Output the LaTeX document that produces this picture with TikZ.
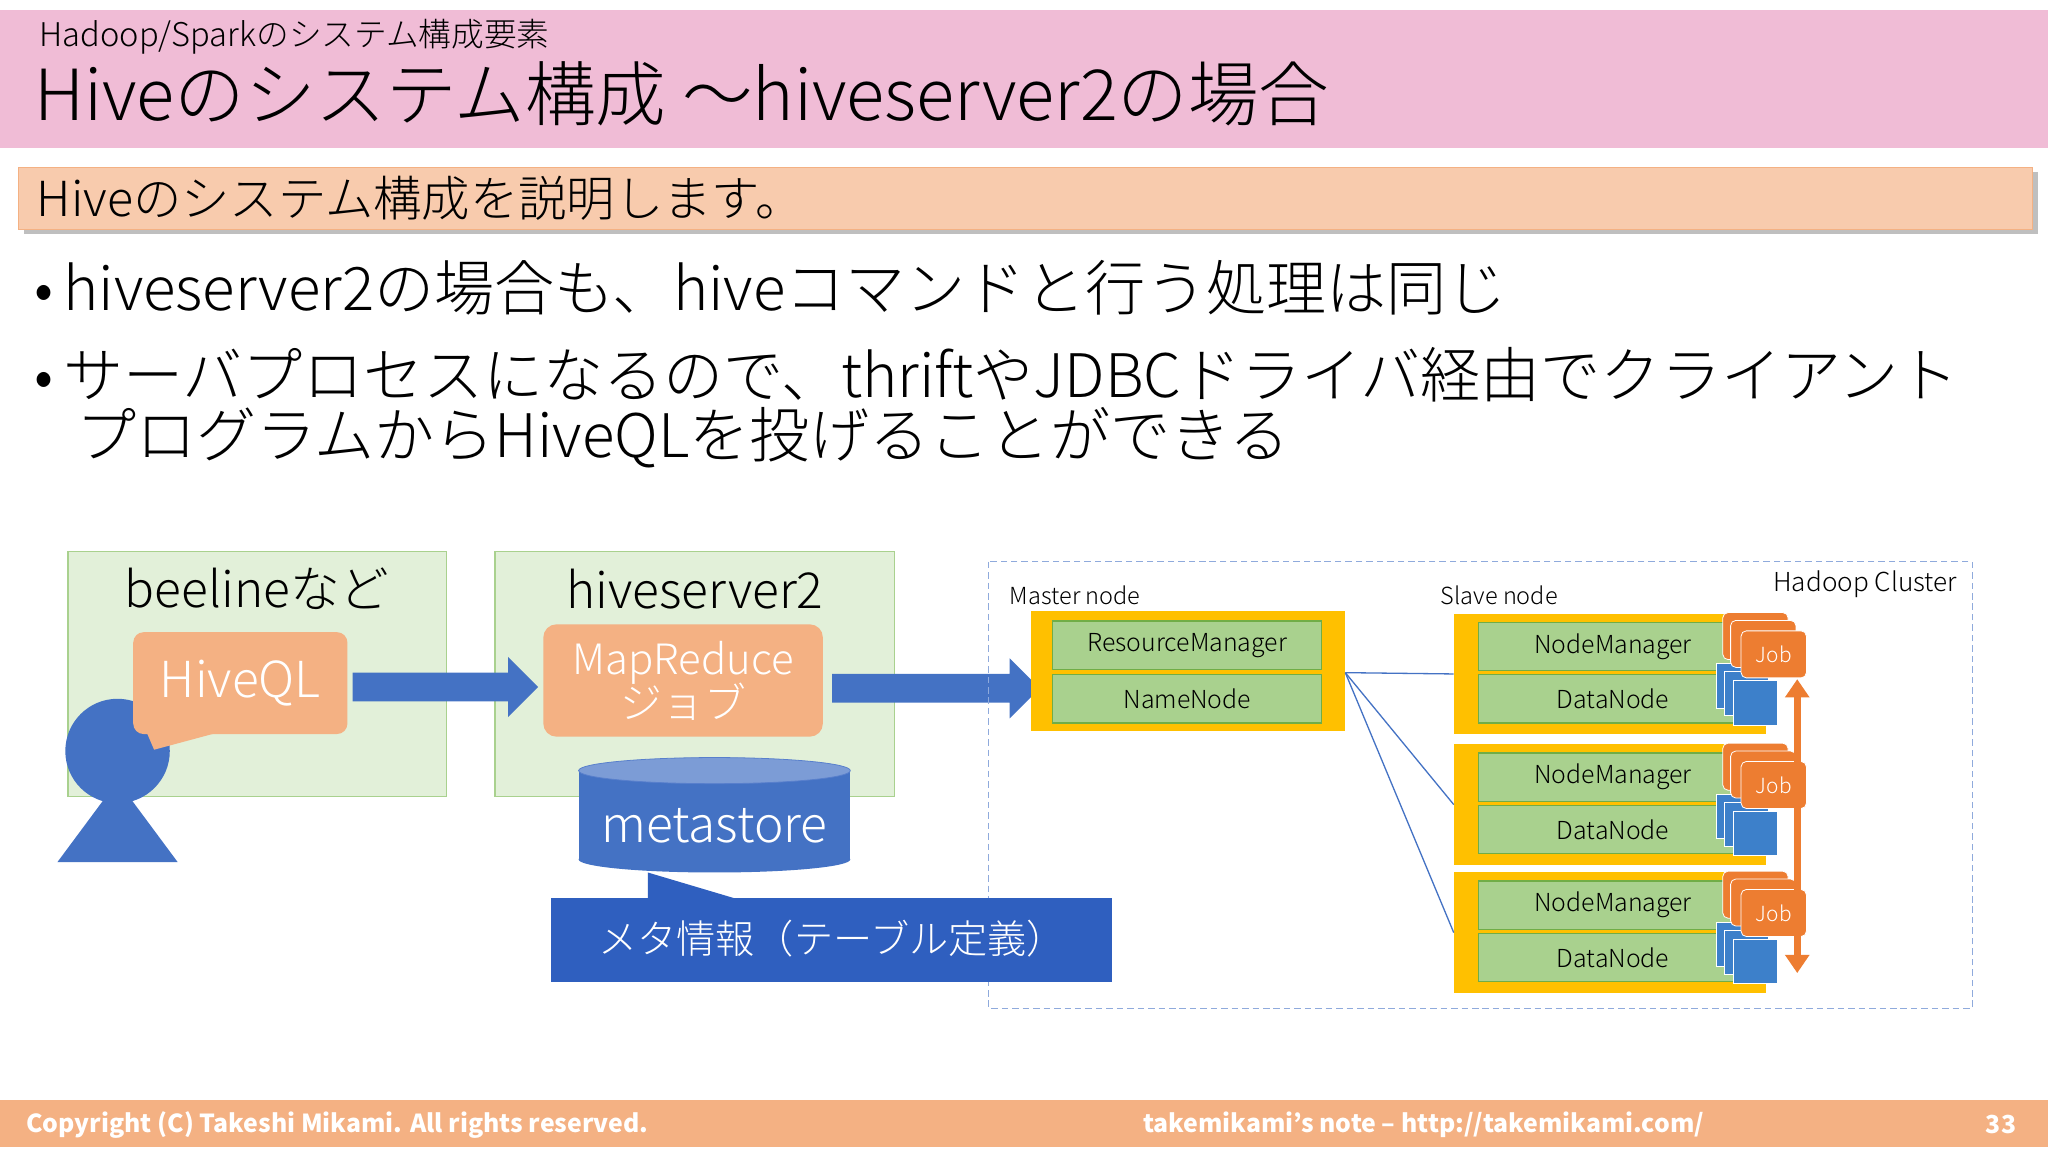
\documentclass[tikz,border=0pt]{standalone}
\usepackage{fontspec}
\setmainfont{Noto Sans CJK JP}
\newfontfamily\lightfont{Noto Sans CJK JP Light}
\usetikzlibrary{shapes.geometric,shapes.arrows,arrows.meta,shadows}
\definecolor{pinkband}{HTML}{F0BCD6}
\definecolor{orbar}{HTML}{F8CBAD}
\definecolor{orfill}{HTML}{F4B183}
\definecolor{grfill}{HTML}{E2F0D9}
\definecolor{grline}{HTML}{A9D18E}
\definecolor{blue1}{HTML}{4472C4}
\definecolor{blue2}{HTML}{2F5FBF}
\definecolor{yel}{HTML}{FFC000}
\definecolor{green2}{HTML}{A9D18E}
\definecolor{green3}{HTML}{70AD47}
\definecolor{dashc}{HTML}{8FAADC}
\definecolor{jobor}{HTML}{ED7D31}
\newcommand{\fs}[1]{\fontsize{#1}{#1}\selectfont}
\tikzset{
  grbox/.style={draw=grline,fill=grfill,line width=1pt},
  inbox/.style={fill=green2,draw=green3,line width=1pt,minimum width=206pt,minimum height=37pt,inner sep=0pt,font=\fs{19}},
  jobcard/.style={fill=jobor,draw=white,line width=0.6pt,rounded corners=4pt,minimum width=50pt,minimum height=36pt,inner sep=0pt},
  bluecard/.style={fill=blue1!90!cyan,draw=white,line width=0.6pt,minimum width=34pt,minimum height=34pt,inner sep=0pt},
  link/.style={draw=blue1,line width=1pt},
}
\begin{document}
\begin{tikzpicture}[x=1pt,y=-1pt]
\useasboundingbox (0,0) rectangle (1568,882);
\fill[white] (0,0) rectangle (1568,882);
% header
\fill[pinkband] (0,8) rectangle (1568,113);
\node[anchor=west,inner sep=0pt,font=\lightfont\fs{25}] (sub) at (30,28) {Hadoop/Sparkのシステム構成要素};
\node[anchor=west,inner sep=0pt,font=\lightfont\fs{54}] (title) at (26,72) {Hiveのシステム構成 ～hiveserver2の場合};
\fill[black!25] (18,132) rectangle (1560,179);
\node[anchor=north west,fill=orbar,draw=orfill,minimum width=1542pt,minimum height=47pt,inner sep=0pt] (bar) at (14,128) {};
\node[anchor=west,inner sep=0pt,font=\lightfont\fs{37}] (bart) at (28,152) {Hiveのシステム構成を説明します。};
% bullets
\node[anchor=west,inner sep=0pt,font=\lightfont\fs{46}] (b1) at (26,220) {•\,hiveserver2の場合も、hiveコマンドと行う処理は同じ};
\node[anchor=west,inner sep=0pt,font=\lightfont\fs{46}] (b2) at (26,287) {•\,サーバプロセスになるので、thriftやJDBCドライバ経由でクライアント};
\node[anchor=west,inner sep=0pt,font=\lightfont\fs{46}] (b3) at (58,335) {プログラムからHiveQLを投げることができる};
% beeline box
\draw[grbox] (52,422) rectangle (342,610);
\node[font=\lightfont\fs{38}] (bl) at (197,451) {beelineなど};
% person
\fill[blue1] (90,575) circle (40);
\fill[blue1] (44,660) -- (136,660) -- (90,598) -- cycle;
% HiveQL callout
\fill[orfill] (112,560) -- (118,574) -- (170,560) -- cycle;
\node[fill=orfill,rounded corners=8pt,minimum width=164pt,minimum height=78pt,text=white,font=\lightfont\fs{38}] (hql) at (184,523) {HiveQL};
% hiveserver2 box
\draw[grbox] (379,422) rectangle (685,610);
\node[font=\lightfont\fs{38}] (hs) at (532,451) {hiveserver2};
\node[fill=orfill,rounded corners=10pt,minimum width=214pt,minimum height=86pt,text=white,font=\lightfont\fs{32},align=center,inner sep=0pt] (mr) at (523,521) {MapReduce\\[-2pt]ジョブ};
% arrows
\fill[blue1] (270,515) -- (389,515) -- (389,503) -- (412,526) -- (389,549) -- (389,537) -- (270,537) -- cycle;
\fill[blue1] (637,516) -- (773,516) -- (773,504) -- (796,527) -- (773,550) -- (773,538) -- (637,538) -- cycle;
% cluster
\draw[dashc,dash pattern=on 5pt off 3pt,line width=1pt] (757,430) rectangle (1510,772);
% metastore cylinder
\fill[blue1] (443,590) rectangle (651,658);
\fill[blue1] (547,658) ellipse (104 and 10);
\fill[blue1!70!white] (547,590) ellipse (104 and 10);
\draw[blue2!80,line width=0.6pt] (547,590) ellipse (104 and 10);
\node[text=white,font=\lightfont\fs{38}] (ms) at (547,632) {metastore};
% meta callout
\fill[blue2] (496,668) -- (496,690) -- (570,690) -- cycle;
\node[fill=blue2,minimum width=429pt,minimum height=65pt,anchor=north west,inner sep=0pt] (meta) at (422,687) {};
\node[text=white,font=\lightfont\fs{30}] (metat) at (637,719) {メタ情報（テーブル定義）};
\node[font=\lightfont\fs{20},inner sep=0pt] (hc) at (1428,447) {Hadoop Cluster};
\node[font=\lightfont\fs{18},anchor=west,inner sep=0pt] (mn) at (773,456) {Master node};
\node[font=\lightfont\fs{18},anchor=west,inner sep=0pt] (sn) at (1103,456) {Slave node};
\fill[yel] (789,468) rectangle (1030,560);
\coordinate (mo) at (1030,515);
\node[inbox,font=\lightfont\fs{19}] (rm) at (909,494) {ResourceManager};
\node[inbox,font=\lightfont\fs{19}] (nn) at (909,535) {NameNode};
\foreach \i/\y in {1/470,2/570,3/668}{
  \fill[yel] (1113,\y) rectangle (1352,\y+92);
  \coordinate (s\i) at (1113,\y+46);
  \node[inbox,font=\lightfont\fs{19}] (nm\i) at (1235,\y+25) {NodeManager};
  \node[inbox,font=\lightfont\fs{19}] (dn\i) at (1235,\y+65) {DataNode};
  \node[bluecard] at (1331,\y+55) {};
  \node[bluecard] at (1337,\y+61) {};
  \node[bluecard] (bc\i) at (1344,\y+68) {};
  \node[jobcard] at (1344,\y+17) {};
  \node[jobcard] at (1350,\y+23) {};
  \node[jobcard,font=\lightfont\fs{16},text=white] (job\i) at (1358,\y+31) {Job};
}
\draw[jobor,line width=5pt,{Triangle[width=18pt,length=14pt]}-{Triangle[width=18pt,length=14pt]}] (1376,520) -- (1376,745);
\draw[link] (mo) -- (s1);
\draw[link] (mo) -- (s2);
\draw[link] (mo) -- (s3);
% footer
\fill[orfill] (0,842) rectangle (1568,878);
\node[anchor=west,text=white,font=\bfseries\fs{19},inner sep=0pt] (f1) at (20,861) {Copyright (C) Takeshi Mikami. All rights reserved.};
\node[text=white,font=\bfseries\fs{19},inner sep=0pt] (f2) at (1090,861) {takemikami’s note – http://takemikami.com/};
\node[text=white,font=\bfseries\fs{19},inner sep=0pt] (f3) at (1532,861) {33};
\end{tikzpicture}
\end{document}
